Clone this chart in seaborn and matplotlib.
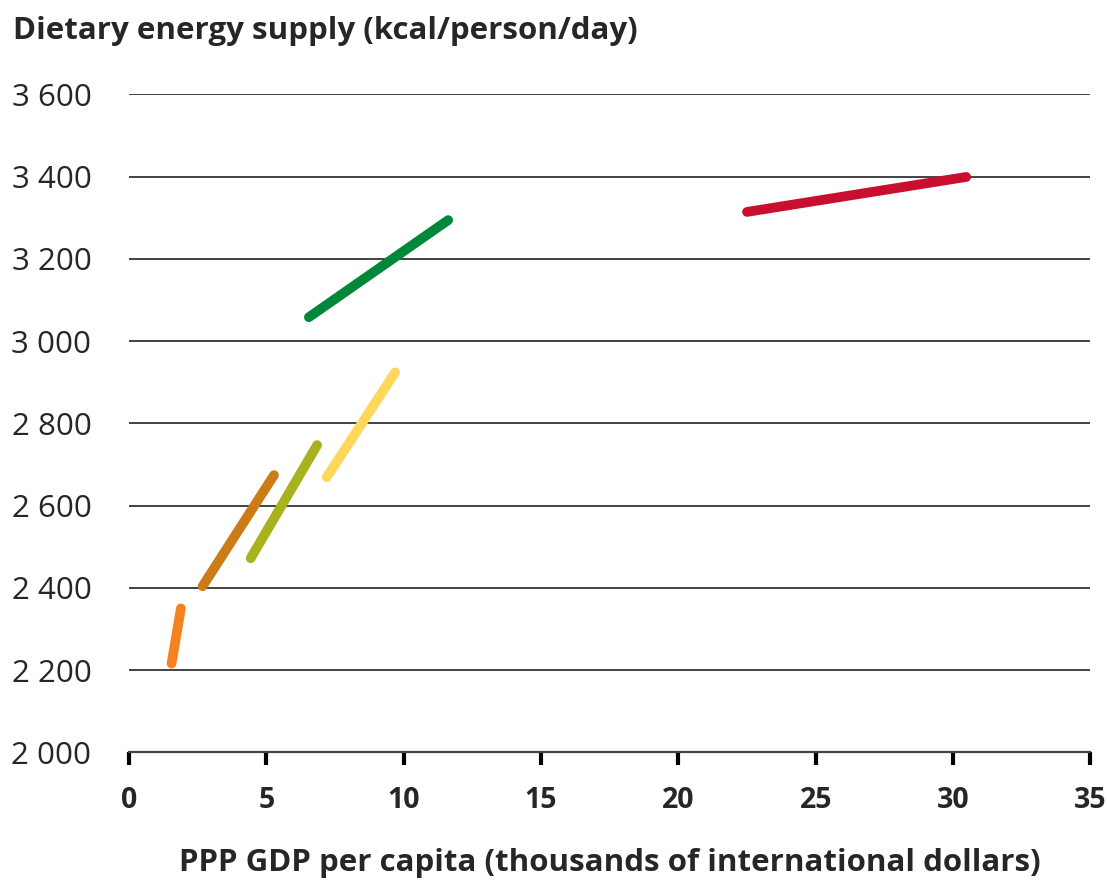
import seaborn as sns
import pandas as pd
import matplotlib.pyplot as plt

# start / end point of each trajectory (GDP in thousand intl $, kcal/person/day)
groups = ['orange', 'brown', 'olive', 'yellow', 'green', 'red']
gdp_start = [1.55, 2.68, 4.43, 7.20, 6.55, 22.5]
gdp_end = [1.89, 5.28, 6.85, 9.69, 11.62, 30.48]
kcal_start = [2216, 2404, 2472, 2669, 3058, 3314]
kcal_end = [2350, 2674, 2747, 2924, 3294, 3399]
colors = ['#F5821F', '#CC7C17', '#A8B21C', '#FFD75A', '#00883A', '#C8102E']

yticks = [2000, 2200, 2400, 2600, 2800, 3000, 3200, 3400, 3600]
ytick_labels = ['2 000', '2 200', '2 400', '2 600', '2 800', '3 000', '3 200', '3 400', '3 600']
xticks = [0, 5, 10, 15, 20, 25, 30, 35]

rows = []
for i, g in enumerate(groups):
    rows.append({'group': g, 'gdp': gdp_start[i], 'kcal': kcal_start[i]})
    rows.append({'group': g, 'gdp': gdp_end[i], 'kcal': kcal_end[i]})
df = pd.DataFrame(rows)

sns.set_style('white')
plt.rcParams['font.family'] = ['Open Sans', 'DejaVu Sans']

fig, ax = plt.subplots(figsize=(11.07, 8.81), dpi=100)
fig.subplots_adjust(left=0.1165, right=0.985, top=0.893, bottom=0.146)

sns.lineplot(data=df, x='gdp', y='kcal', hue='group', palette=colors,
             estimator=None, sort=False, legend=False, linewidth=7,
             solid_capstyle='round', ax=ax, zorder=3)

ax.set_xlim(0, 35)
ax.set_ylim(2000, 3600)
ax.set_xticks(xticks)
ax.set_xticklabels([str(t) for t in xticks], fontsize=20.5, fontweight='bold')
ax.set_yticks(yticks)
ax.set_yticklabels(ytick_labels, fontsize=22.5)
ax.set_xlabel('PPP GDP per capita (thousands of international dollars)',
              fontsize=22.5, fontweight='bold', labelpad=24)
ax.set_ylabel('')

for y in yticks[1:]:
    ax.axhline(y, color='#222222', linewidth=1.2, zorder=1)

for s in ['top', 'right', 'left']:
    ax.spines[s].set_visible(False)
ax.spines['bottom'].set_color('#444444')
ax.spines['bottom'].set_linewidth(1.6)
ax.tick_params(axis='x', bottom=True, direction='out', length=9, width=3,
               color='black', pad=15)
ax.tick_params(axis='y', left=False, length=0, pad=27)

fig.text(0.012, 0.965, 'Dietary energy supply (kcal/person/day)',
         fontsize=22.5, fontweight='bold', ha='left', va='center')

fig.savefig('out.png', dpi=100)
